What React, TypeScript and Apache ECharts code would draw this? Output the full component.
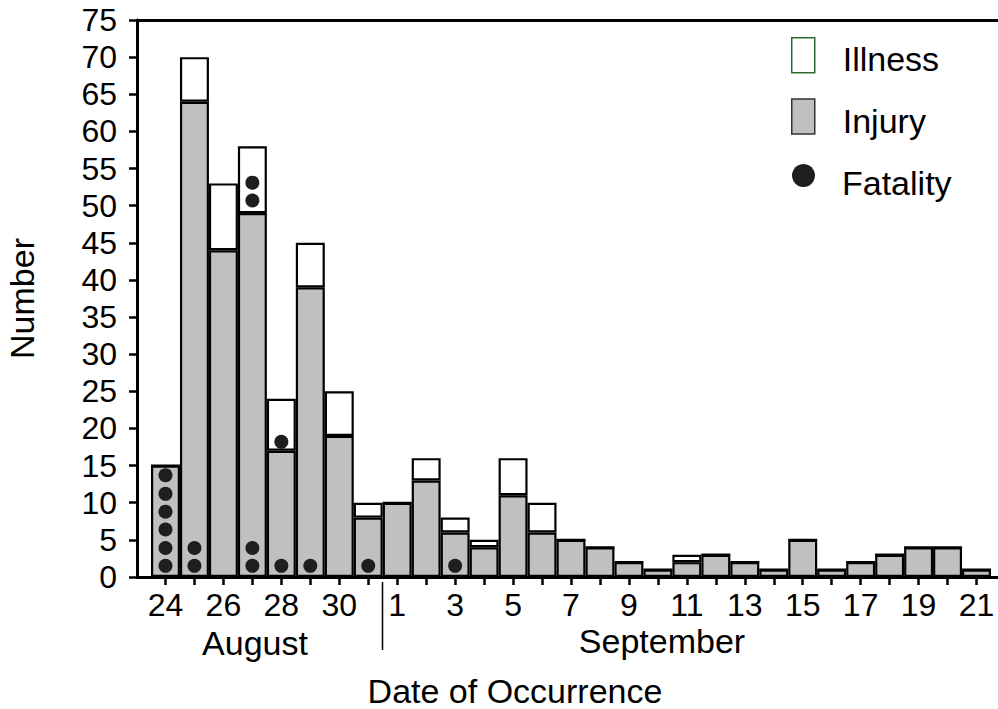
import React, { useEffect, useRef } from "react";
import * as echarts from "echarts";

const days = [
  "24", "25", "26", "27", "28", "29", "30", "31",
  "1", "2", "3", "4", "5", "6", "7", "8", "9", "10", "11", "12", "13", "14",
  "15", "16", "17", "18", "19", "20", "21",
];
const injury = [15, 64, 44, 49, 17, 39, 19, 8, 10, 13, 6, 4, 11, 6, 5, 4, 2, 1, 2, 3, 2, 1, 5, 1, 2, 3, 4, 4, 1];
const illness = [0, 6, 9, 9, 7, 6, 6, 2, 0, 3, 2, 1, 5, 4, 0, 0, 0, 0, 1, 0, 0, 0, 0, 0, 0, 0, 0, 0, 0];
// fatality dots: day index and vertical position (value units) as drawn
const fatalityDay = [0, 0, 0, 0, 0, 0, 1, 1, 3, 3, 3, 3, 4, 4, 5, 7, 10];
const fatalityY = [1.5, 3.9, 6.4, 8.8, 11.2, 13.7, 1.5, 3.9, 1.5, 3.9, 50.7, 53.1, 1.5, 18.2, 1.5, 1.5, 1.5];
const yTicks = { min: 0, max: 75, interval: 5 };
const monthLabels = ["August", "September"];
const FONT = "'Liberation Sans', Arial, Helvetica, sans-serif";

export default function App() {
  const ref = useRef<HTMLDivElement>(null);
  useEffect(() => {
    if (!ref.current) return;
    const chart = echarts.init(ref.current, null, { renderer: "svg" });
    const option: any = {
      animation: false,
      backgroundColor: "#fff",
      textStyle: { fontFamily: FONT, color: "#000" },
      grid: [
        { left: 151, right: 7, top: 20, bottom: 132, outerBoundsMode: "none", containLabel: false },
        { left: 137, right: 0, top: 20, bottom: 132, outerBoundsMode: "none", containLabel: false },
      ],
      legend: [
        {
          orient: "vertical",
          left: 791,
          top: 37,
          padding: 0,
          itemWidth: 23,
          itemHeight: 35,
          itemGap: 22,
          selectedMode: false,
          formatter: "{t|{name}}",
          textStyle: {
            fontSize: 34,
            fontFamily: FONT,
            color: "#000",
            rich: { t: { fontSize: 34, fontFamily: FONT, color: "#000", padding: [8, 0, 0, 23] } },
          },
          data: [
            { name: "Illness", icon: "rect", itemStyle: { color: "#fff", borderColor: "#2e6b2e", borderWidth: 1.5 } },
            { name: "Injury", icon: "rect", itemStyle: { color: "#c0c0c0", borderColor: "#333", borderWidth: 1.5 } },
          ],
        },
        {
          orient: "vertical",
          left: 792,
          top: 164,
          padding: 0,
          itemWidth: 23,
          itemHeight: 23,
          selectedMode: false,
          formatter: "{t|{name}}",
          textStyle: {
            fontSize: 34,
            fontFamily: FONT,
            color: "#000",
            rich: { t: { fontSize: 34, fontFamily: FONT, color: "#000", padding: [14, 0, 0, 22] } },
          },
          data: [{ name: "Fatality", icon: "circle", itemStyle: { color: "#1e1e1e", opacity: 1 } }],
        },
      ],
      xAxis: [
        {
          type: "category",
          gridIndex: 0,
          data: days,
          boundaryGap: true,
          axisLine: { show: false },
          axisTick: { show: true, alignWithLabel: true, interval: 0, length: 8, lineStyle: { color: "#000", width: 2.5 } },
          axisLabel: { interval: 1, fontSize: 32, color: "#000", fontFamily: FONT, margin: 12 },
          splitLine: { show: false },
        },
        {
          type: "value",
          gridIndex: 1,
          position: "bottom",
          min: 0,
          max: 1,
          axisLine: { show: true, onZero: false, lineStyle: { color: "#000", width: 3 } },
          axisTick: { show: false },
          axisLabel: { show: false },
          splitLine: { show: false },
        },
        {
          type: "value",
          gridIndex: 1,
          position: "top",
          min: 0,
          max: 1,
          axisLine: { show: true, onZero: false, lineStyle: { color: "#000", width: 3 } },
          axisTick: { show: false },
          axisLabel: { show: false },
          splitLine: { show: false },
        },
      ],
      yAxis: [
        {
          type: "value",
          gridIndex: 0,
          min: yTicks.min,
          max: yTicks.max,
          interval: yTicks.interval,
          offset: 14,
          name: "Number",
          nameLocation: "middle",
          nameGap: 98,
          nameTextStyle: { fontSize: 34, color: "#000", fontFamily: FONT },
          axisLine: { show: true, lineStyle: { color: "#000", width: 3 } },
          axisTick: { show: true, length: 8, lineStyle: { color: "#000", width: 2.5 } },
          axisLabel: { fontSize: 32, color: "#000", fontFamily: FONT, margin: 20 },
          splitLine: { show: false },
        },
        {
          type: "value",
          gridIndex: 1,
          min: yTicks.min,
          max: yTicks.max,
          show: false,
        },
      ],
      series: [
        {
          name: "Injury",
          type: "bar",
          xAxisIndex: 0,
          yAxisIndex: 0,
          stack: "cases",
          barWidth: "100%",
          barCategoryGap: "0%",
          data: injury,
          itemStyle: { color: "#c0c0c0", borderColor: "#000", borderWidth: 2.2 },
        },
        {
          name: "Illness",
          type: "bar",
          xAxisIndex: 0,
          yAxisIndex: 0,
          stack: "cases",
          barWidth: "100%",
          barCategoryGap: "0%",
          data: illness,
          itemStyle: { color: "#fff", borderColor: "#000", borderWidth: 2.2 },
        },
        {
          name: "Fatality",
          type: "scatter",
          xAxisIndex: 0,
          yAxisIndex: 0,
          symbol: "circle",
          symbolSize: 14,
          z: 5,
          data: fatalityDay.map((d, i) => [d, fatalityY[i]]),
          itemStyle: { color: "#1e1e1e", opacity: 1 },
        },
      ],
      graphic: [
        {
          type: "line",
          shape: { x1: 382.5, y1: 582, x2: 382.5, y2: 650 },
          style: { stroke: "#000", lineWidth: 1.5 },
        },
        {
          type: "text",
          x: 255,
          y: 626,
          style: { text: monthLabels[0], fontSize: 34, fontFamily: FONT, fill: "#000", textAlign: "center", textVerticalAlign: "top" },
        },
        {
          type: "text",
          x: 662,
          y: 624,
          style: { text: monthLabels[1], fontSize: 34, fontFamily: FONT, fill: "#000", textAlign: "center", textVerticalAlign: "top" },
        },
        {
          type: "text",
          x: 515,
          y: 674,
          style: { text: "Date of Occurrence", fontSize: 34, fontFamily: FONT, fill: "#000", textAlign: "center", textVerticalAlign: "top" },
        },
      ],
    };
    chart.setOption(option);
    return () => chart.dispose();
  }, []);
  return (
    <div
      ref={ref}
      style={{ position: "fixed", left: 0, top: 0, width: 998, height: 709, background: "#fff" }}
    />
  );
}
